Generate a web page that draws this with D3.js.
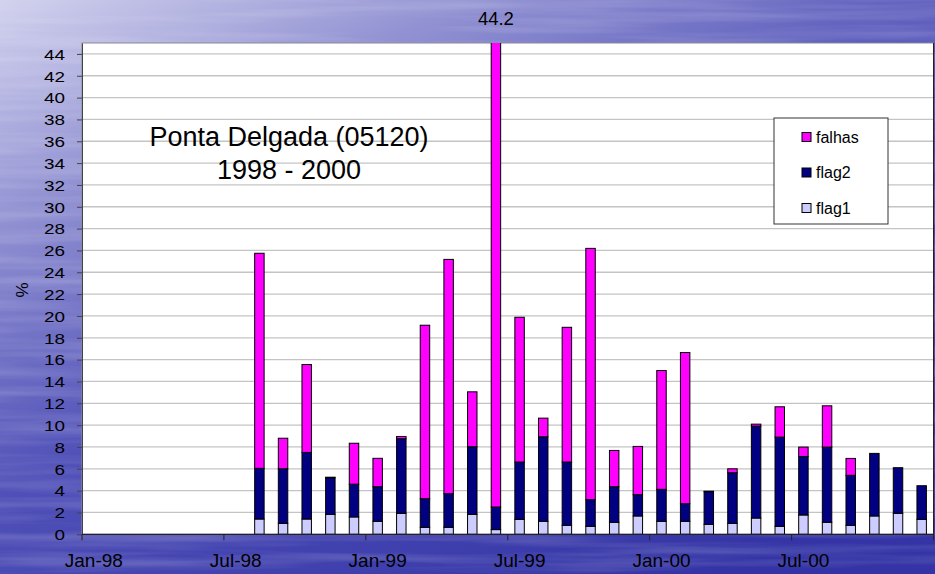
<!DOCTYPE html>
<html>
<head>
<meta charset="utf-8">
<script src="https://cdn.jsdelivr.net/npm/d3@7"></script>
<style>
  html, body { margin: 0; padding: 0; background: #3c3caa; }
  svg { display: block; font-family: "Liberation Sans", Arial, sans-serif; }
</style>
</head>
<body>
<svg id="chart" width="935" height="574"></svg>
<script>
// months with bars, Aug-98 .. Dec-00
const barMonths = ["Aug-98", "Sep-98", "Oct-98", "Nov-98", "Dec-98",
  "Jan-99", "Feb-99", "Mar-99", "Apr-99", "May-99", "Jun-99", "Jul-99", "Aug-99", "Sep-99", "Oct-99", "Nov-99", "Dec-99",
  "Jan-00", "Feb-00", "Mar-00", "Apr-00", "May-00", "Jun-00", "Jul-00", "Aug-00", "Sep-00", "Oct-00", "Nov-00", "Dec-00"];
const flag1 = [1.4, 1.0, 1.4, 1.83, 1.59, 1.19, 1.92, 0.64, 0.64, 1.83, 0.43, 1.37, 1.19, 0.82, 0.73, 1.1, 1.68, 1.19, 1.19, 0.91, 1.0, 1.49, 0.73, 1.77, 1.1, 0.82, 1.68, 1.92, 1.37];
const flag2 = [4.64, 5.0, 6.1, 3.35, 3.0, 3.17, 6.83, 2.62, 3.08, 6.19, 2.07, 5.25, 7.74, 5.8, 2.44, 3.26, 1.95, 2.93, 1.61, 2.99, 4.64, 8.42, 8.17, 5.36, 6.89, 4.58, 5.73, 4.18, 3.08];
const falhas = [19.7, 2.8, 8.05, 0.05, 3.75, 2.6, 0.21, 15.89, 21.46, 5.03, 44.2, 13.26, 1.71, 12.34, 23.02, 3.32, 4.42, 10.88, 13.85, 0.05, 0.36, 0.18, 2.78, 0.86, 3.78, 1.55, 0, 0, 0];
const tickLabels = ["Jan-98", "Jul-98", "Jan-99", "Jul-99", "Jan-00", "Jul-00"];
const yTicks = d3.range(0, 45, 2);
const seriesKeys = ["flag1", "flag2", "falhas"];
const colors = { flag1: "#ccccff", flag2: "#000080", falhas: "#ff00ff" };

const W = 935, H = 574;
const plot = { left: 82, right: 933.5, top: 43, bottom: 534.3 };
const svg = d3.select("#chart");

// background, blue water look
const defs = svg.append("defs");
const bg = defs.append("linearGradient").attr("id", "bg")
  .attr("x1", 0).attr("y1", 0).attr("x2", 0.75).attr("y2", 1);
bg.append("stop").attr("offset", 0).attr("stop-color", "#d2d2ee");
bg.append("stop").attr("offset", 0.25).attr("stop-color", "#9090d2");
bg.append("stop").attr("offset", 0.55).attr("stop-color", "#5050b8");
bg.append("stop").attr("offset", 1).attr("stop-color", "#3434a6");
const streaks = defs.append("filter").attr("id", "streaks")
  .attr("x", 0).attr("y", 0).attr("width", 1).attr("height", 1);
streaks.append("feTurbulence").attr("type", "fractalNoise")
  .attr("baseFrequency", "0.004 0.09").attr("numOctaves", 3).attr("seed", 4);
streaks.append("feColorMatrix").attr("type", "matrix")
  .attr("values", "0 0 0 0 1  0 0 0 0 1  0 0 0 0 1  0 0 0 0.9 -0.35");
defs.append("clipPath").attr("id", "plotclip").append("rect")
  .attr("x", plot.left).attr("y", plot.top)
  .attr("width", plot.right - plot.left).attr("height", plot.bottom - plot.top);

svg.append("rect").attr("width", W).attr("height", H).attr("fill", "url(#bg)");
svg.append("rect").attr("width", W).attr("height", H)
  .attr("filter", "url(#streaks)").attr("opacity", 0.4);

// scales
const allMonths = d3.timeMonths(new Date(1998, 0, 1), new Date(2001, 0, 1)).map(d3.timeFormat("%b-%y"));
const slot = d3.scaleBand().domain(allMonths).range([plot.left, plot.right]);
const x = d3.scaleBand().domain(allMonths).range([plot.left, plot.right])
  .paddingInner(0.6).paddingOuter(0.3);
const y = d3.scaleLinear().domain([0, 45]).range([plot.bottom, plot.top]);

// plot area
svg.append("rect")
  .attr("x", plot.left).attr("y", plot.top)
  .attr("width", plot.right - plot.left).attr("height", plot.bottom - plot.top)
  .attr("fill", "#fff").attr("stroke", "#8a8a9a").attr("stroke-width", 1);

svg.append("g").selectAll("line").data(yTicks.filter(d => d > 0)).join("line")
  .attr("x1", plot.left).attr("x2", plot.right)
  .attr("y1", d => y(d)).attr("y2", d => y(d))
  .attr("stroke", "#c4c4c4").attr("stroke-width", 1.3);

// title inside the plot
const title = svg.append("text").attr("text-anchor", "middle")
  .attr("font-size", 27).attr("fill", "#000");
title.append("tspan").attr("x", 289).attr("y", 146).text("Ponta Delgada (05120)");
title.append("tspan").attr("x", 289).attr("y", 179).text("1998 - 2000");

// stacked bars
const rows = barMonths.map((m, i) => ({ month: m, flag1: flag1[i], flag2: flag2[i], falhas: falhas[i] }));
const stacked = d3.stack().keys(seriesKeys)(rows);

svg.append("g").attr("clip-path", "url(#plotclip)")
  .selectAll("g").data(stacked).join("g")
  .attr("fill", d => colors[d.key])
  .selectAll("rect").data(d => d.filter(s => s[1] - s[0] > 0)).join("rect")
  .attr("x", d => x(d.data.month))
  .attr("width", x.bandwidth())
  .attr("y", d => y(d[1]))
  .attr("height", d => y(d[0]) - y(d[1]))
  .attr("stroke", "#000").attr("stroke-width", 1);

// y axis
const yAxis = svg.append("g").attr("transform", `translate(${plot.left},0)`)
  .call(d3.axisLeft(y).tickValues(yTicks).tickSizeInner(5).tickSizeOuter(0).tickPadding(0));
yAxis.select(".domain").attr("stroke", "#444");
yAxis.selectAll(".tick line").attr("stroke", "#444");
yAxis.selectAll(".tick text")
  .attr("x", 0).attr("dy", "0.34em")
  .attr("transform", "translate(-17,0) scale(1.22,1)")
  .attr("font-size", 15.5).attr("font-family", "Liberation Sans, Arial, sans-serif").attr("fill", "#000");

svg.append("text")
  .attr("transform", "translate(28,290) rotate(-90)")
  .attr("text-anchor", "middle").attr("font-size", 17).text("%");

// x axis: labels centered in month slots, ticks at slot starts
const xAxis = svg.append("g").attr("transform", `translate(0,${plot.bottom})`)
  .call(d3.axisBottom(slot).tickValues(tickLabels).tickSize(0).tickPadding(19));
xAxis.select(".domain").remove();
xAxis.selectAll(".tick text")
  .attr("font-size", 19).attr("font-family", "Liberation Sans, Arial, sans-serif").attr("fill", "#000");
svg.append("line")
  .attr("x1", plot.left).attr("x2", plot.right)
  .attr("y1", plot.bottom).attr("y2", plot.bottom)
  .attr("stroke", "#222").attr("stroke-width", 1.2);
svg.append("g").selectAll("line").data(tickLabels).join("line")
  .attr("x1", d => slot(d)).attr("x2", d => slot(d))
  .attr("y1", plot.bottom).attr("y2", plot.bottom + 6)
  .attr("stroke", "#222");
svg.append("line")
  .attr("x1", plot.right).attr("x2", plot.right)
  .attr("y1", plot.top).attr("y2", plot.bottom + 6)
  .attr("stroke", "#222");

// value note for the clipped bar
svg.append("text")
  .attr("x", x("Jun-99") + x.bandwidth() / 2).attr("y", 25)
  .attr("text-anchor", "middle").attr("font-size", 18.5).text("44.2");

// legend
const legend = svg.append("g").attr("transform", "translate(774,118)");
legend.append("rect").attr("width", 114).attr("height", 106)
  .attr("fill", "#fff").attr("stroke", "#333").attr("stroke-width", 1);
const legendItems = legend.selectAll("g.item").data(["falhas", "flag2", "flag1"]).join("g")
  .attr("class", "item")
  .attr("transform", (d, i) => `translate(28,${19 + i * 35.5})`);
legendItems.append("rect").attr("x", 0).attr("y", -4.5).attr("width", 9).attr("height", 9)
  .attr("fill", d => colors[d]).attr("stroke", "#000").attr("stroke-width", 1);
legendItems.append("text").attr("x", 14).attr("dy", "0.35em")
  .attr("font-size", 16).text(d => d);
</script>
</body>
</html>
